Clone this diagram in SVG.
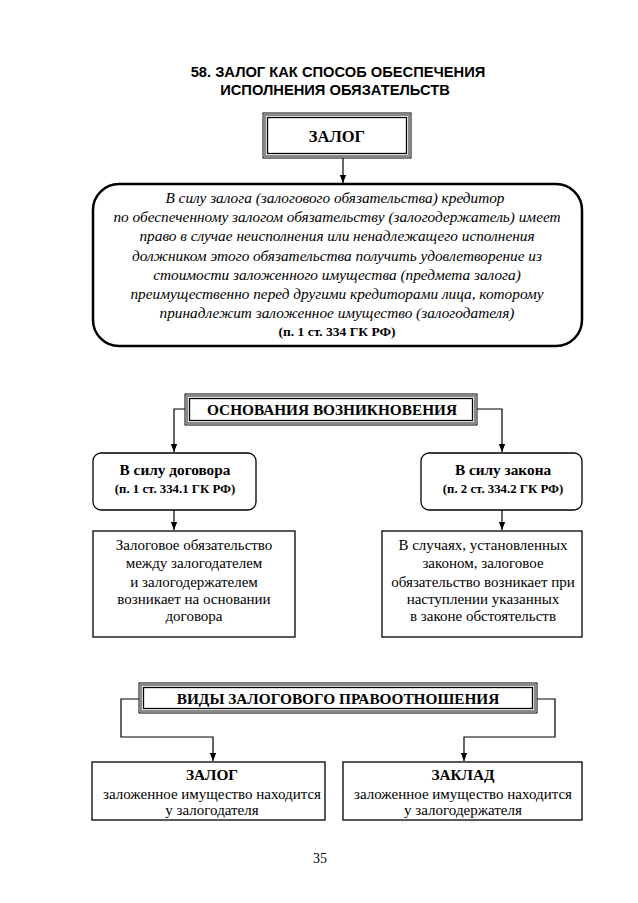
<svg xmlns="http://www.w3.org/2000/svg" width="638" height="903" viewBox="0 0 638 903">
<style>
.title{font-family:"Liberation Sans",Arial,sans-serif;font-weight:bold;font-size:14.7px;fill:#000;text-anchor:middle}
.serif{font-family:"Liberation Serif","Times New Roman",serif;fill:#000;text-anchor:middle}
.it{font-style:italic;font-size:15.3px}
.b{font-weight:bold}
.f14{font-size:15px}
.fb{font-size:15.3px}
.f12{font-size:12.8px}
.box{fill:#fff;stroke:#000;stroke-width:1.3}
.fo{fill:#fff;stroke:#000;stroke-width:1}
.fm{fill:none;stroke:#8a8a8a;stroke-width:2}
.fi{fill:none;stroke:#000;stroke-width:1.3}
.con{fill:none;stroke:#000;stroke-width:1.2}
</style>
<defs>
<marker id="ah" viewBox="0 0 8 8" refX="8" refY="4" markerWidth="8" markerHeight="8" markerUnits="userSpaceOnUse" orient="auto">
<path d="M0,0.8 L8,4 L0,7.2 Z" fill="#000"/>
</marker>
</defs>
<rect width="638" height="903" fill="#fff"/>
<g id="title">
<text class="title" x="338" y="77">58. ЗАЛОГ КАК СПОСОБ ОБЕСПЕЧЕНИЯ</text>
<text class="title" x="335" y="95">ИСПОЛНЕНИЯ ОБЯЗАТЕЛЬСТВ</text>
</g>
<g id="connectors">
<path class="con" d="M343,158 V183" marker-end="url(#ah)"/>
<path class="con" d="M185,409 H174 V452" marker-end="url(#ah)"/>
<path class="con" d="M477,409 H502 V452" marker-end="url(#ah)"/>
<path class="con" d="M174,510 V530" marker-end="url(#ah)"/>
<path class="con" d="M502,510 V530" marker-end="url(#ah)"/>
<path class="con" d="M139,699 H121 V737 H213 V761" marker-end="url(#ah)"/>
<path class="con" d="M537,699 H555 V737 H464 V761" marker-end="url(#ah)"/>
</g>
<g id="zalog-head">
<rect class="fo" x="263" y="113" width="148" height="45"/>
<rect class="fm" x="265" y="115" width="144" height="41"/>
<rect class="fi" x="267.5" y="117.5" width="139" height="36"/>
<text class="serif b" x="337" y="142" font-size="16.5">ЗАЛОГ</text>
</g>
<g id="definition">
<rect x="93" y="184" width="489" height="162" rx="26" ry="26" fill="#fff" stroke="#000" stroke-width="2.5"/>
<text class="serif it" x="335" y="203">В силу залога (залогового обязательства) кредитор</text>
<text class="serif it" x="337" y="222">по обеспеченному залогом обязательству (залогодержатель) имеет</text>
<text class="serif it" x="337" y="241">право в случае неисполнения или ненадлежащего исполнения</text>
<text class="serif it" x="337" y="261">должником этого обязательства получить удовлетворение из</text>
<text class="serif it" x="337" y="280">стоимости заложенного имущества (предмета залога)</text>
<text class="serif it" x="337" y="299">преимущественно перед другими кредиторами лица, которому</text>
<text class="serif it" x="337" y="318">принадлежит заложенное имущество (залогодателя)</text>
<text class="serif b" x="337" y="336" font-size="13.5">(п. 1 ст. 334 ГК РФ)</text>
</g>
<g id="osnovaniya">
<rect class="fo" x="185" y="394" width="292" height="31"/>
<rect class="fm" x="187" y="396" width="288" height="27"/>
<rect class="fi" x="189.5" y="398.5" width="283" height="22"/>
<text class="serif b fb" x="332" y="415">ОСНОВАНИЯ ВОЗНИКНОВЕНИЯ</text>
</g>
<g id="dogovor">
<rect class="box" x="93" y="453" width="163" height="57" rx="8" ry="8"/>
<text class="serif b fb" x="175" y="475">В силу договора</text>
<text class="serif b f12" x="175" y="493">(п. 1 ст. 334.1 ГК РФ)</text>
</g>
<g id="zakon">
<rect class="box" x="421" y="453" width="161" height="57" rx="8" ry="8"/>
<text class="serif b fb" x="503" y="475">В силу закона</text>
<text class="serif b f12" x="503" y="493">(п. 2 ст. 334.2 ГК РФ)</text>
</g>
<g id="dogovor-text">
<rect class="box" x="93" y="531" width="202" height="106"/>
<text class="serif f14" x="194" y="550">Залоговое обязательство</text>
<text class="serif f14" x="194" y="568">между залогодателем</text>
<text class="serif f14" x="194" y="587">и залогодержателем</text>
<text class="serif f14" x="194" y="604">возникает на основании</text>
<text class="serif f14" x="194" y="621">договора</text>
</g>
<g id="zakon-text">
<rect class="box" x="382" y="531" width="200" height="106"/>
<text class="serif f14" x="483" y="550">В случаях, установленных</text>
<text class="serif f14" x="483" y="568">законом, залоговое</text>
<text class="serif f14" x="483" y="587">обязательство возникает при</text>
<text class="serif f14" x="483" y="604">наступлении указанных</text>
<text class="serif f14" x="483" y="621">в законе обстоятельств</text>
</g>
<g id="vidy">
<rect class="fo" x="139" y="683" width="398" height="30"/>
<rect class="fm" x="141" y="685" width="394" height="26"/>
<rect class="fi" x="143.5" y="687.5" width="389" height="21"/>
<text class="serif b fb" x="338" y="704">ВИДЫ ЗАЛОГОВОГО ПРАВООТНОШЕНИЯ</text>
</g>
<g id="zalog-vid">
<rect class="box" x="92" y="762" width="233" height="58"/>
<text class="serif b fb" x="212" y="780">ЗАЛОГ</text>
<text class="serif f14" x="212" y="799">заложенное имущество находится</text>
<text class="serif f14" x="212" y="815">у залогодателя</text>
</g>
<g id="zaklad-vid">
<rect class="box" x="343" y="762" width="239" height="58"/>
<text class="serif b fb" x="463" y="780">ЗАКЛАД</text>
<text class="serif f14" x="463" y="799">заложенное имущество находится</text>
<text class="serif f14" x="463" y="815">у залогодержателя</text>
</g>
<text class="serif" x="320" y="863" font-size="14">35</text>
</svg>
